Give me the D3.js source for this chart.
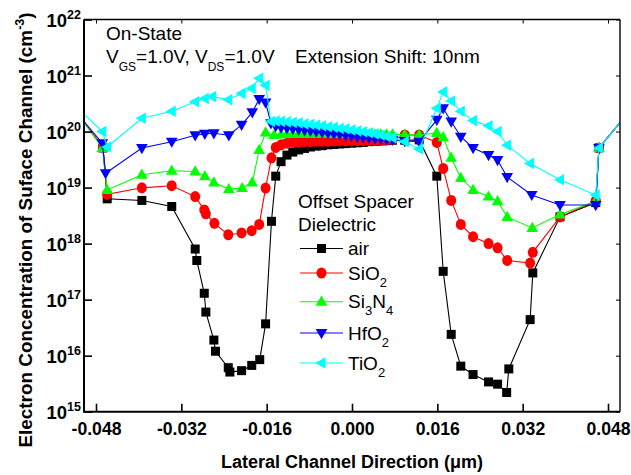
<!DOCTYPE html>
<html>
<head>
<meta charset="utf-8">
<script src="https://cdn.jsdelivr.net/npm/d3@7"></script>
<style>
  body { margin: 0; background: #fff; }
  svg { display: block; }
  text { font-family: "Liberation Sans", Arial, Helvetica, sans-serif; fill: #000; }
</style>
</head>
<body>
<svg id="chart" width="631" height="475"></svg>
<script>
// Electron concentration along the surface channel, [lateral position (µm), n (cm^-3)]
const air = [
  [-0.0525, 2.9e20], [-0.0467, 5.1e19], [-0.0459, 6.3e18], [-0.0394, 5.9e18], [-0.0338, 4.6e18],
  [-0.0294, 8.0e17], [-0.0291, 5.0e17], [-0.0277, 1.3e17], [-0.0274, 6.0e16], [-0.0259, 1.9e16],
  [-0.0256, 1.2e16], [-0.0232, 6.1e15], [-0.0229, 5.1e15], [-0.0207, 5.4e15], [-0.0188, 6.7e15],
  [-0.0173, 8.5e15], [-0.0162, 3.7e16], [-0.0151, 2.5e18], [-0.0143, 1.6e19], [-0.0133, 2.9e19],
  [-0.0122, 3.8e19], [-0.0111, 4.3e19], [-0.0100, 4.7e19], [-0.0089, 5.0e19], [-0.0078, 5.3e19],
  [-0.0067, 5.5e19], [-0.0056, 5.6e19], [-0.0045, 5.8e19], [-0.0034, 5.9e19], [-0.0023, 6.0e19],
  [-0.0012, 6.1e19], [-0.0001, 6.2e19], [0.0010, 6.3e19], [0.0021, 6.4e19], [0.0032, 6.6e19],
  [0.0043, 6.7e19], [0.0054, 6.8e19], [0.0065, 6.9e19], [0.0076, 7.0e19], [0.0099, 7.0e19],
  [0.0126, 7.1e19], [0.0159, 1.6e19], [0.0171, 3.2e17], [0.0186, 2.4e16], [0.0204, 6.5e15],
  [0.0227, 4.6e15], [0.0256, 3.4e15], [0.0273, 3.1e15], [0.0290, 2.2e15], [0.0294, 5.8e15],
  [0.0334, 4.4e16], [0.0339, 3.0e17], [0.0390, 3.0e18], [0.0457, 5.4e18], [0.0463, 5.1e19],
  [0.0525, 2.6e20]
];

const sio2 = [
  [-0.0525, 2.9e20], [-0.0467, 5.3e19], [-0.0459, 7.6e18], [-0.0394, 9.9e18], [-0.0338, 1.08e19],
  [-0.0294, 6.9e18], [-0.0277, 4.0e18], [-0.0274, 3.4e18], [-0.0258, 2.3e18], [-0.0232, 1.44e18],
  [-0.0207, 1.55e18], [-0.0188, 1.70e18], [-0.0174, 2.2e18], [-0.0162, 9.8e18], [-0.0151, 3.4e19],
  [-0.0143, 5.2e19], [-0.0133, 5.8e19], [-0.0122, 6.2e19], [-0.0111, 6.4e19], [-0.0100, 6.5e19],
  [-0.0089, 6.6e19], [-0.0078, 6.6e19], [-0.0067, 6.7e19], [-0.0056, 6.7e19], [-0.0045, 6.7e19],
  [-0.0034, 6.8e19], [-0.0023, 6.8e19], [-0.0012, 6.8e19], [-0.0001, 6.9e19], [0.0010, 6.9e19],
  [0.0021, 6.9e19], [0.0032, 7.0e19], [0.0043, 7.0e19], [0.0054, 7.0e19], [0.0065, 7.1e19],
  [0.0076, 7.2e19], [0.0099, 8.7e19], [0.0126, 8.7e19], [0.0159, 6.4e19], [0.0171, 2.2e19],
  [0.0186, 5.9e18], [0.0204, 2.2e18], [0.0227, 1.33e18], [0.0256, 1.0e18], [0.0273, 8.4e17],
  [0.0291, 5.0e17], [0.0334, 4.5e17], [0.0339, 7.0e17], [0.0390, 3.0e18], [0.0457, 5.8e18],
  [0.0463, 5.1e19], [0.0525, 2.6e20]
];

const si3n4 = [
  [-0.0525, 2.9e20], [-0.0468, 5.1e19], [-0.0459, 9.1e18], [-0.0394, 1.69e19], [-0.0338, 2.0e19],
  [-0.0294, 1.94e19], [-0.0276, 1.6e19], [-0.0259, 1.23e19], [-0.0231, 9.4e18], [-0.0206, 9.8e18],
  [-0.0187, 1.23e19], [-0.0174, 4.7e19], [-0.0162, 9.6e19], [-0.0146, 8.7e19], [-0.0133, 8.9e19],
  [-0.0122, 9.0e19], [-0.0111, 9.0e19], [-0.0100, 9.1e19], [-0.0089, 9.1e19], [-0.0078, 9.1e19],
  [-0.0067, 9.1e19], [-0.0056, 9.1e19], [-0.0045, 9.1e19], [-0.0034, 9.0e19], [-0.0023, 9.0e19],
  [-0.0012, 9.0e19], [-0.0001, 9.0e19], [0.0010, 9.0e19], [0.0021, 8.9e19], [0.0032, 8.9e19],
  [0.0043, 8.9e19], [0.0054, 8.9e19], [0.0065, 8.9e19], [0.0076, 8.9e19], [0.0099, 8.8e19],
  [0.0126, 8.7e19], [0.0159, 9.4e19], [0.0171, 7.9e19], [0.0186, 3.4e19], [0.0204, 1.48e19],
  [0.0227, 9.1e18], [0.0256, 6.9e18], [0.0273, 5.7e18], [0.0291, 3.0e18], [0.0338, 1.9e18],
  [0.0390, 3.3e18], [0.0457, 5.7e18], [0.0463, 5.1e19], [0.0525, 2.6e20]
];

const hfo2 = [
  [-0.0525, 2.7e20], [-0.0468, 6.2e19], [-0.0462, 1.81e19], [-0.0394, 5.1e19], [-0.0338, 6.6e19],
  [-0.0294, 8.6e19], [-0.0276, 9.1e19], [-0.0259, 9.3e19], [-0.0231, 8.6e19], [-0.0207, 1.32e20],
  [-0.0187, 2.2e20], [-0.0174, 3.8e20], [-0.0162, 3.3e20], [-0.0152, 1.41e20], [-0.0143, 1.25e20],
  [-0.0133, 1.19e20], [-0.0122, 1.15e20], [-0.0111, 1.12e20], [-0.0100, 1.09e20], [-0.0089, 1.05e20],
  [-0.0078, 1.03e20], [-0.0067, 1.00e20], [-0.0056, 9.7e19], [-0.0045, 9.4e19], [-0.0034, 9.1e19],
  [-0.0023, 8.9e19], [-0.0012, 8.6e19], [-0.0001, 8.4e19], [0.0010, 8.1e19], [0.0021, 7.9e19],
  [0.0032, 7.7e19], [0.0043, 7.5e19], [0.0054, 7.4e19], [0.0065, 7.2e19], [0.0076, 7.1e19],
  [0.0099, 6.8e19], [0.0126, 6.6e19], [0.0159, 1.62e20], [0.0171, 2.6e20], [0.0186, 1.51e20],
  [0.0204, 8.1e19], [0.0227, 5.1e19], [0.0256, 3.8e19], [0.0273, 3.1e19], [0.0291, 1.54e19],
  [0.0337, 7.4e18], [0.0390, 4.9e18], [0.0457, 4.9e18], [0.0463, 5.1e19], [0.0525, 2.6e20]
];

const tio2 = [
  [-0.0525, 3.3e20], [-0.0468, 1.0e20], [-0.0459, 5.3e19], [-0.0394, 1.73e20], [-0.0338, 2.3e20],
  [-0.0294, 3.4e20], [-0.0276, 3.9e20], [-0.0262, 4.2e20], [-0.0232, 3.7e20], [-0.0207, 4.8e20],
  [-0.0188, 5.9e20], [-0.0174, 8.9e20], [-0.0162, 6.7e20], [-0.0152, 1.51e20], [-0.0143, 1.54e20],
  [-0.0133, 1.52e20], [-0.0122, 1.49e20], [-0.0111, 1.46e20], [-0.0100, 1.43e20], [-0.0089, 1.37e20],
  [-0.0078, 1.35e20], [-0.0067, 1.30e20], [-0.0056, 1.27e20], [-0.0045, 1.22e20], [-0.0034, 1.19e20],
  [-0.0023, 1.14e20], [-0.0012, 1.12e20], [-0.0001, 1.07e20], [0.0010, 1.03e20], [0.0021, 9.9e19],
  [0.0032, 9.5e19], [0.0043, 9.1e19], [0.0054, 8.7e19], [0.0065, 8.2e19], [0.0076, 7.8e19],
  [0.0099, 6.6e19], [0.0126, 4.9e19], [0.0159, 2.6e20], [0.0171, 5.1e20], [0.0186, 3.5e20],
  [0.0204, 2.3e20], [0.0227, 1.57e20], [0.0256, 1.27e20], [0.0273, 1.0e20], [0.0291, 5.7e19],
  [0.0334, 2.7e19], [0.0390, 1.38e19], [0.0457, 7.4e18], [0.0463, 5.1e19], [0.0525, 2.6e20]
];

// Spacer dielectrics, in legend order (base name and subscript pieces)
const dielectrics = [
  { key: "air",   parts: [["air", false]],                            data: air },
  { key: "SiO2",  parts: [["SiO", false], ["2", true]],               data: sio2 },
  { key: "Si3N4", parts: [["Si", false], ["3", true], ["N", false], ["4", true]], data: si3n4 },
  { key: "HfO2",  parts: [["HfO", false], ["2", true]],               data: hfo2 },
  { key: "TiO2",  parts: [["TiO", false], ["2", true]],               data: tio2 }
];

const xTicks = [-0.048, -0.032, -0.016, 0.000, 0.016, 0.032, 0.048];
const yTicks = [1e15, 1e16, 1e17, 1e18, 1e19, 1e20, 1e21, 1e22];

// ---- layout ----
const plot = { left: 84, right: 620, top: 19.5, bottom: 411.7 };

const svg = d3.select("#chart");

const x = d3.scaleLinear().domain([-0.05025, 0.05025]).range([plot.left, plot.right]);
const y = d3.scaleLog().domain([1e15, 1e22]).range([plot.bottom, plot.top]);

const style = {
  air:   { color: "#000000", shape: "M-4.5,-4.5H4.5V4.5H-4.5Z" },
  SiO2:  { color: "#ff0000", shape: "M-5,0A5,5.5 0 1,0 5,0A5,5.5 0 1,0 -5,0Z" },
  Si3N4: { color: "#00ff00", shape: "M0,-6.2L5.8,4L-5.8,4Z" },
  HfO2:  { color: "#0000ff", shape: "M0,6.2L5.8,-4L-5.8,-4Z" },
  TiO2:  { color: "#00ffff", shape: "M-6.2,0L4,-5.8L4,5.8Z" }
};

svg.append("defs").append("clipPath").attr("id", "plot-clip")
  .append("rect")
  .attr("x", plot.left).attr("y", plot.top)
  .attr("width", plot.right - plot.left).attr("height", plot.bottom - plot.top);

// ---- series ----
const line = d3.line().x(d => x(d[0])).y(d => y(d[1]));
const [xMin, xMax] = x.domain();

const seriesG = svg.append("g");
dielectrics.forEach(s => {
  const st = style[s.key];
  const g = seriesG.append("g");
  g.append("path")
    .datum(s.data)
    .attr("clip-path", "url(#plot-clip)")
    .attr("fill", "none")
    .attr("stroke", st.color)
    .attr("stroke-width", 1.1)
    .attr("d", line);
  g.selectAll("path.mk")
    .data(s.data.filter(d => d[0] >= xMin && d[0] <= xMax))
    .join("path")
    .attr("class", "mk")
    .attr("d", st.shape)
    .attr("fill", st.color)
    .attr("transform", d => `translate(${x(d[0])},${y(d[1])})`);
});

// ---- axes ----
const axisG = svg.append("g");

const xAxis = axisG.append("g")
  .attr("transform", `translate(0,${plot.bottom})`)
  .call(d3.axisBottom(x).tickValues(xTicks).tickSizeInner(-8).tickSizeOuter(0)
    .tickPadding(11).tickFormat(d => d.toFixed(3)));
xAxis.select(".domain").remove();
xAxis.selectAll(".tick line").attr("stroke-width", 1.6);
xAxis.selectAll(".tick text")
  .style("font-family", '"Liberation Sans", Arial, sans-serif')
  .attr("font-size", 17.6).attr("font-weight", "bold");

const yAxis = axisG.append("g")
  .attr("transform", `translate(${plot.left},0)`)
  .call(d3.axisLeft(y).tickValues(yTicks).tickSizeInner(-8).tickSizeOuter(0).tickFormat(""));
yAxis.select(".domain").remove();
yAxis.selectAll(".tick line").attr("stroke-width", 1.6);
yAxis.selectAll(".tick text").remove();
yAxis.selectAll(".tick").append("text")
  .attr("x", -3).attr("y", 6.5)
  .attr("text-anchor", "end")
  .attr("font-weight", "bold")
  .each(function(d) {
    const t = d3.select(this);
    t.append("tspan").attr("font-size", 18.5).text("10");
    t.append("tspan").attr("font-size", 12.5).attr("dy", -8).text(String(Math.round(Math.log10(d))));
  });

// mirrored short ticks on top and right
const topAxis = axisG.append("g")
  .attr("transform", `translate(0,${plot.top})`)
  .call(d3.axisTop(x).tickValues(xTicks).tickSizeInner(-4).tickSizeOuter(0).tickFormat(""));
topAxis.select(".domain").remove();
const rightAxis = axisG.append("g")
  .attr("transform", `translate(${plot.right},0)`)
  .call(d3.axisRight(y).tickValues(yTicks).tickSizeInner(-4).tickSizeOuter(0).tickFormat(""));
rightAxis.select(".domain").remove();

// frame
axisG.append("line").attr("x1", plot.left).attr("x2", plot.right)
  .attr("y1", plot.bottom).attr("y2", plot.bottom).attr("stroke", "#000").attr("stroke-width", 2);
axisG.append("line").attr("x1", plot.left).attr("x2", plot.left)
  .attr("y1", plot.top).attr("y2", plot.bottom + 1).attr("stroke", "#000").attr("stroke-width", 2);
axisG.append("line").attr("x1", plot.left).attr("x2", plot.right)
  .attr("y1", plot.top).attr("y2", plot.top).attr("stroke", "#000").attr("stroke-width", 1.4);
axisG.append("line").attr("x1", plot.right).attr("x2", plot.right)
  .attr("y1", plot.top).attr("y2", plot.bottom).attr("stroke", "#000").attr("stroke-width", 1.4);

// ---- axis titles ----
svg.append("text")
  .attr("x", 352).attr("y", 468)
  .attr("text-anchor", "middle")
  .attr("font-size", 18).attr("font-weight", "bold")
  .text("Lateral Channel Direction (\u03bcm)");

const yTitle = svg.append("text")
  .attr("transform", "translate(32,230) rotate(-90)")
  .attr("text-anchor", "middle")
  .attr("font-size", 18.9).attr("font-weight", "bold");
yTitle.append("tspan").text("Electron Concentration of Suface Channel (cm");
yTitle.append("tspan").attr("font-size", 12.5).attr("dy", -8).text("-3");
yTitle.append("tspan").attr("dy", 8).text(")");

// ---- annotations ----
const note = svg.append("g").attr("font-size", 19);
note.append("text").attr("x", 106).attr("y", 40).text("On-State");
const bias = note.append("text").attr("x", 106).attr("y", 63);
bias.append("tspan").text("V");
bias.append("tspan").attr("font-size", 12).attr("dy", 8).text("GS");
bias.append("tspan").attr("dy", -8).text("=1.0V, V");
bias.append("tspan").attr("font-size", 12).attr("dy", 8).text("DS");
bias.append("tspan").attr("dy", -8).text("=1.0V");
note.append("text").attr("x", 295).attr("y", 63).text("Extension Shift: 10nm");

// ---- legend ----
const legend = svg.append("g").attr("font-size", 19);
legend.append("text").attr("x", 298).attr("y", 208).text("Offset Spacer");
legend.append("text").attr("x", 298).attr("y", 231).text("Dielectric");
const legendRows = [248.5, 273, 301.7, 333, 363];
dielectrics.forEach((s, i) => {
  const st = style[s.key];
  const ly = legendRows[i];
  legend.append("line").attr("x1", 300).attr("x2", 343).attr("y1", ly).attr("y2", ly)
    .attr("stroke", st.color).attr("stroke-width", 1.1);
  legend.append("path").attr("d", st.shape).attr("fill", st.color)
    .attr("transform", `translate(321.5,${ly})`);
  const t = legend.append("text").attr("x", 348).attr("y", ly + 6.5);
  let sub = false;
  s.parts.forEach(([txt, isSub]) => {
    const ts = t.append("tspan").text(txt);
    if (isSub) { ts.attr("font-size", 13); }
    if (isSub !== sub) { ts.attr("dy", isSub ? 7 : -7); sub = isSub; }
  });
});
</script>
</body>
</html>
